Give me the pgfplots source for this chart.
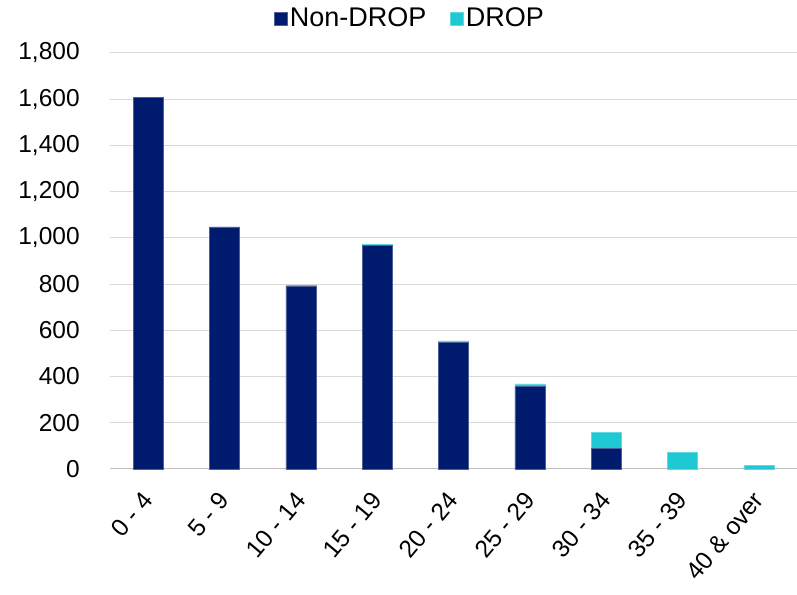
\documentclass[border=0pt]{standalone}
\usepackage{pgfplots}
\pgfplotsset{compat=1.18}
\usepackage{fontspec}
\setmainfont{Liberation Sans}
\definecolor{navy}{RGB}{0,26,110}
\definecolor{drop}{RGB}{30,201,212}
\definecolor{gridc}{RGB}{217,217,217}
\begin{document}
\fontsize{24.5bp}{29bp}\selectfont
\begin{tikzpicture}
\useasboundingbox (0,0) rectangle (797bp,595bp);
\begin{axis}[
  at={(110bp,126bp)}, anchor=south west,
  scale only axis, width=687bp, height=416bp,
  ybar stacked, bar width=30bp,
  xmin=-0.5, xmax=8.5, ymin=0, ymax=1800,
  ytick={0,200,...,1800},
  xtick={0,...,8},
  xticklabels={0 - 4,5 - 9,10 - 14,15 - 19,20 - 24,25 - 29,30 - 34,35 - 39,40 \& over},
  x tick label style={xshift=-7bp, yshift=-21bp, rotate=50, anchor=north east, inner sep=0bp},
  ticklabel style={font=\fontsize{24.5bp}{29bp}\selectfont},
  /pgf/number format/assume math mode=true,
  /pgf/number format/1000 sep={,},
  yticklabel style={xshift=-22bp},
  major tick length=0pt,
  ymajorgrids, grid style={gridc, line width=1bp},
  axis x line*=bottom, axis y line*=left,
  y axis line style={draw=none},
  x axis line style={gridc!70!gray, line width=1bp, -},
  legend style={at={(0.437,1.0)}, anchor=south, yshift=21bp, draw=none, legend columns=2,
    font=\fontsize{27bp}{32bp}\selectfont, inner sep=0pt,
    /tikz/every even column/.append style={column sep=22bp}},
  legend image code/.code={\fill[#1] (0bp,-7bp) rectangle (13bp,6bp);},
  clip=false,
]
\addplot[fill=navy, draw=navy!70!white, line width=0.5bp] coordinates {(0,1608) (1,1048) (2,792) (3,966) (4,547) (5,356) (6,88) (7,0) (8,0)};
\addplot[fill=drop, draw=drop!70!white, line width=0.5bp] coordinates {(0,0) (1,0) (2,3) (3,6) (4,7) (5,12) (6,72) (7,72) (8,16)};
\legend{Non-DROP, DROP}
\end{axis}
\end{tikzpicture}
\end{document}
